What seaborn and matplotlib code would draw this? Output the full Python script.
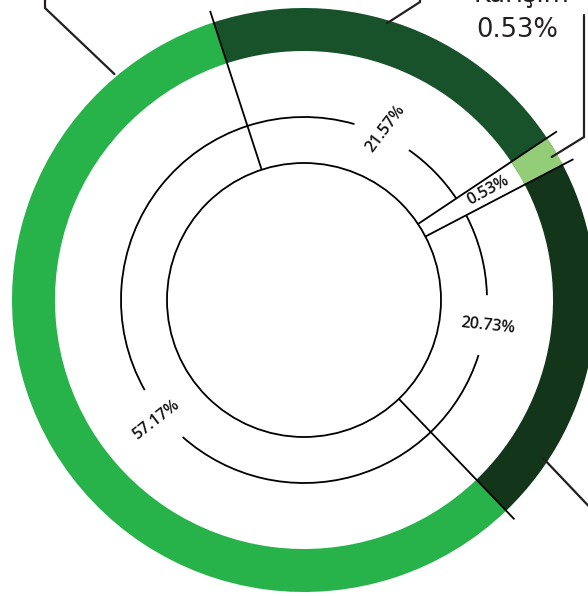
import numpy as np
import matplotlib
matplotlib.use("Agg")
import matplotlib.pyplot as plt
from matplotlib.patches import Arc, Wedge, Circle
import seaborn as sns

sns.set_theme(style="white")
plt.rcParams["font.family"] = ["Open Sans", "DejaVu Sans"]

# data
labels = ["21.57%", "0.53%", "20.73%", "57.17%"]
shares = [21.57, 0.53, 20.73, 57.17]
colors = ["#17522a", "#93cd78", "#133519", "#27b24a"]
callout_title = "Karışım"
callout_value = "0.53%"

INK = "#231f20"
W, H = 588, 596
cx, cy = 304, 296           # centre, y axis pointing up
r_in, r_mid = 137, 183      # inner circle and guide arc
r_out, ring_w = 292, 43     # coloured ring
start = -18                 # clock angle (deg, clockwise from top) of first boundary


def pol(clock, r):
    a = np.radians(clock)
    return cx + r * np.sin(a), cy + r * np.cos(a)


fig = plt.figure(figsize=(W / 100, H / 100), dpi=100)
ax = fig.add_axes([0, 0, 1, 1])

ax.pie(shares, colors=colors, startangle=90 - start, counterclock=False,
       radius=r_out, center=(cx, cy),
       wedgeprops=dict(width=ring_w, linewidth=0, antialiased=True))

# slice boundaries as clock angles
edges = start + np.concatenate([[0], np.cumsum(shares)]) * 3.6
small_mid = (edges[1] + edges[2]) / 2
strip = (small_mid - 4.3, small_mid + 1.8)

# widen the tiny slice so it stays visible
ax.add_patch(Wedge((cx, cy), r_out, 90 - strip[1], 90 - strip[0],
                   width=ring_w, color=colors[1], lw=0))

lw = 1.3
ax.add_patch(Circle((cx, cy), r_in, fill=False, ec="black", lw=lw))

# guide arc broken around the labels and the small-slice strip
label_ang = [25.5, sum(strip) / 2, 98, 231]
label_r = [190, 214, 186, 190]
label_rot = [53, 29, -6, 38]
gap = 9.5
gaps = [(label_ang[0] - gap, label_ang[0] + gap), strip,
        (label_ang[2] - gap, label_ang[2] + gap),
        (label_ang[3] - gap, label_ang[3] + gap)]
for (a0, a1), (b0, b1) in zip(gaps, gaps[1:] + [(gaps[0][0] + 360, 0)]):
    ax.add_patch(Arc((cx, cy), 2 * r_mid, 2 * r_mid, theta1=90 - b0,
                     theta2=90 - a1, ec="black", lw=lw))

# radial boundary lines
for c in [edges[0], strip[0], strip[1], edges[3]]:
    x0, y0 = pol(c, r_in)
    x1, y1 = pol(c, 304)
    ax.plot([x0, x1], [y0, y1], color="black", lw=lw, solid_capstyle="butt")

for txt, a, r, rot in zip(labels, label_ang, label_r, label_rot):
    x, y = pol(a, r)
    ax.text(x, y, txt, rotation=rot, ha="center", va="center",
            fontsize=11.5, fontweight="semibold", color="#111111",
            rotation_mode="anchor")

# leader lines towards the callouts (outside this crop)
leaders = [
    (320, 295, [(45, 588), (45, 600)]),
    (16.7, 289, [(420, 594), (420, 600)]),
    (60, 286, [(584, 459), (584, 581)]),
    (123.5, 287, [(600, 78)]),
]
for c, r, pts in leaders:
    x0, y0 = pol(c, r)
    xs = [x0] + [p[0] for p in pts]
    ys = [y0] + [p[1] for p in pts]
    ax.plot(xs, ys, color=INK, lw=1.6, solid_joinstyle="miter")

big = dict(fontsize=18.5, color=INK, va="baseline", ha="left",
           family=["DejaVu Sans"])
ax.text(473, 594, callout_title, **big)
ax.text(476, 559, callout_value, **big)

ax.set_xlim(0, W)
ax.set_ylim(0, H)
ax.set_aspect("equal")
ax.axis("off")
fig.savefig("out.png", dpi=100, facecolor="white")
